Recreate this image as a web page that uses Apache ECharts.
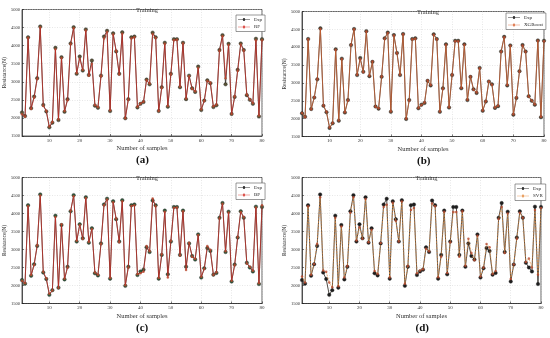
<!DOCTYPE html>
<html><head><meta charset="utf-8">
<script src="https://cdn.jsdelivr.net/npm/echarts@6/dist/echarts.min.js"></script>
<style>html,body{margin:0;padding:0;background:#fff}#c{width:550px;height:338px}</style>
</head><body><div id="c"></div>
<script>
const samples = Array.from({length: 80}, (_, i) => i + 1);
const xTicks = [10, 20, 30, 40, 50, 60, 70, 80];
const yTicks = [1500, 2000, 2500, 3000, 3500, 4000, 4500, 5000];
const panelLabels = ['(a)', '(b)', '(c)', '(d)'];
const modelNames = ['RF', 'XGBoost', 'BP', 'SVR'];

const expValues = [2150,2050,4230,2270,2590,3100,4530,2360,2180,1740,
 1870,3940,1940,3680,2170,2520,4060,4510,3220,3700,
 3310,4450,3190,3590,2340,2280,3170,4250,4410,2190,
 4340,3840,3220,4370,1990,2520,4230,4250,2290,2390,
 2440,3060,2930,4360,4230,2190,2850,4080,2310,3220,
 4180,4180,2850,4080,2520,3170,2820,2720,3420,2220,
 2480,3040,2960,2300,2350,3880,4290,2930,4050,2110,
 2580,3330,4060,3880,2630,2500,2390,4190,2040,4180];

const rfValues = [2100,2030,4220,2250,2560,3080,4500,2330,2200,1760,
 1890,3900,1960,3660,2190,2490,4040,4480,3240,3640,
 3330,4420,3170,3500,2360,2300,3150,4200,4380,2210,
 4310,3860,3200,4330,1990,2500,4200,4230,2310,2400,
 2450,3040,2950,4320,4210,2190,2830,4050,2330,3200,
 4150,4160,2870,4060,2540,3150,2800,2740,3380,2240,
 2470,3020,2980,2320,2370,3850,4260,3100,4020,2110,
 2600,3300,4030,3860,2650,2520,2410,4150,2070,4150];

const xgbValues = [2160,2040,4220,2260,2600,3110,4510,2370,2190,1750,
 1880,3930,1950,3670,2180,2510,4070,4500,3230,3660,
 3300,4440,3200,3600,2330,2290,3180,4240,4400,2200,
 4330,3830,3230,4360,2000,2510,4220,4240,2300,2380,
 2450,3070,2940,4350,4220,2200,2840,4070,2320,3230,
 4170,4170,2860,4070,2530,3180,2810,2730,3410,2230,
 2490,3050,2950,2310,2360,3870,4280,2940,4040,2120,
 2590,3320,4050,3870,2620,2510,2400,4180,2050,4170];

const bpValues = [2130,2060,4210,2290,2570,3120,4500,2380,2200,1770,
 1860,3900,1930,3700,2190,2500,4080,4480,3240,3680,
 3290,4430,3210,3570,2360,2300,3150,4230,4390,2210,
 4310,3860,3200,4340,2010,2500,4210,4230,2310,2340,
 2380,3100,2950,4420,4200,2210,2870,4050,2220,3240,
 4160,4170,2830,4060,2430,3190,2800,2740,3400,2240,
 2460,3100,2990,2290,2370,3860,4270,2950,4030,2130,
 2560,3350,4040,3900,2610,2520,2410,4170,2060,4230];

const svrValues = [2250,2080,4200,2300,2600,3150,4450,2420,2380,2080,
 1950,3880,1980,3640,2220,2540,4020,4450,3250,3620,
 3300,4400,3200,3550,2400,2320,3180,4180,4240,2220,
 4300,3800,3220,4330,2050,2540,4100,4150,2340,2420,
 2450,3020,2950,4280,4200,2230,2800,4050,2350,3200,
 4040,4040,2800,4060,2550,3300,2900,2700,3380,2250,
 2500,3150,3060,2320,2400,3850,4180,2900,4000,2180,
 2580,3300,4020,3880,2650,2750,2500,4100,2300,4150];

const modelValues = [rfValues, xgbValues, bpValues, svrValues];

const grids = [
  {left: 22, top: 9.5, width: 240, height: 126.5},
  {left: 302, top: 11.5, width: 242, height: 125},
  {left: 22, top: 177.5, width: 240, height: 126},
  {left: 302, top: 177.5, width: 239, height: 126}
];
const legendPos = [
  {left: 236, top: 15}, {left: 506, top: 13}, {left: 236, top: 183}, {left: 515, top: 184}
];
const expMarker = ['#5b5436', '#4e4632', '#2f5a3a', '#1e1e1e'];
const modelLine = ['#d42b22', '#d9622e', '#d42b22', '#e38a3c'];
const lineIcon = 'path://M0,9.6h8a2,2 0 1,1 4,0h8v0.8h-8a2,2 0 1,1 -4,0h-8z';

const font = 'Liberation Serif';
const option = {
  animation: false,
  backgroundColor: '#fff',
  title: grids.map((g, i) => ({
    text: 'Training', left: g.left + g.width / 2, top: g.top - 8, textAlign: 'center',
    textStyle: {fontFamily: font, fontSize: 6.5, fontWeight: 'normal', color: '#333'}
  })),
  legend: grids.map((g, i) => ({
    data: [
      {name: 'Exp' + i, icon: lineIcon, itemStyle: {color: '#333', borderWidth: 0}},
      {name: modelNames[i] + i, icon: lineIcon, itemStyle: {color: modelLine[i], borderWidth: 0}}
    ],
    formatter: n => n.replace(/\d+$/, ''),
    orient: 'vertical', left: legendPos[i].left, top: legendPos[i].top,
    itemWidth: 12, itemHeight: 3.5, itemGap: 2.5, padding: [2, 3, 2, 2],
    itemStyle: {borderWidth: 0}, lineStyle: {width: 0},
    borderColor: '#555', borderWidth: 0.6, backgroundColor: '#fff',
    textStyle: {fontFamily: font, fontSize: 5, color: '#222', padding: [0, 0, 0, -1]}
  })),
  grid: grids.map(g => Object.assign({show: true, borderColor: '#222', borderWidth: 0.7, backgroundColor: 'transparent'}, g)),
  xAxis: grids.map((g, i) => ({
    type: 'value', gridIndex: i, min: 1, max: 80,
    name: 'Number of samples', nameLocation: 'middle', nameGap: 9,
    nameTextStyle: {fontFamily: font, fontSize: 6.5, color: '#333'},
    axisLine: {lineStyle: {color: '#222', width: 0.7}},
    axisTick: {inside: true, length: 2, customValues: xTicks, lineStyle: {color: '#222', width: 0.6}},
    axisLabel: {customValues: xTicks, fontFamily: font, fontSize: 5, color: '#333', margin: 2},
    splitLine: {show: true, lineStyle: {color: '#cfcfcf', type: [1, 1.5], width: 0.5}}
  })),
  yAxis: grids.map((g, i) => ({
    type: 'value', gridIndex: i, min: 1500, max: 5000, interval: 500,
    name: 'Resistance(N)', nameLocation: 'middle', nameGap: 14,
    nameTextStyle: {fontFamily: font, fontSize: 5.5, color: '#333'},
    axisLine: {show: true, lineStyle: {color: '#222', width: 0.7}},
    axisTick: {show: true, inside: true, length: 2, lineStyle: {color: '#222', width: 0.6}},
    axisLabel: {fontFamily: font, fontSize: 4.5, color: '#333', margin: 2, formatter: v => String(v)},
    splitLine: {show: true, lineStyle: {color: '#cfcfcf', type: [1, 1.5], width: 0.5}}
  })),
  series: [].concat(...grids.map((g, i) => [
    {
      name: 'Exp' + i, type: 'line', xAxisIndex: i, yAxisIndex: i,
      data: samples.map((s, k) => [s, expValues[k]]),
      symbol: 'circle', symbolSize: 3.5,
      lineStyle: {color: '#3a3530', width: 0.9},
      itemStyle: {color: expMarker[i], borderColor: '#222', borderWidth: 0.4},
      z: 2
    },
    {
      name: modelNames[i] + i, type: 'line', xAxisIndex: i, yAxisIndex: i,
      data: samples.map((s, k) => [s, modelValues[i][k]]),
      symbol: 'circle', symbolSize: 2.5,
      lineStyle: {color: modelLine[i], width: 0.9, opacity: 0.75, type: i === 3 ? [2, 1] : 'solid'},
      itemStyle: {color: '#b8482e', opacity: 0.8},
      z: 3
    }
  ])),
  graphic: grids.map((g, i) => ({
    type: 'text', left: g.left + g.width / 2 - 6, top: g.top + g.height + 19,
    style: {text: panelLabels[i], font: 'bold 11px "Liberation Serif"', fill: '#111'}
  }))
};
const chart = echarts.init(document.getElementById('c'), null, {renderer: 'canvas'});
chart.setOption(option);
</script></body></html>
